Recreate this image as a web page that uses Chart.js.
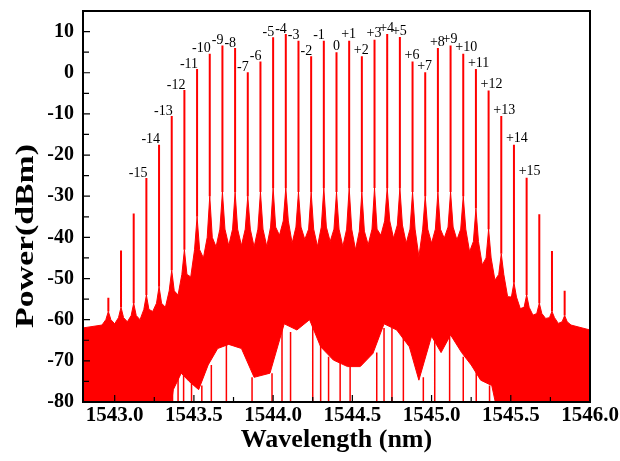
<!DOCTYPE html>
<html>
<head>
<meta charset="utf-8">
<script src="https://cdn.jsdelivr.net/npm/chart.js@4.4.1/dist/chart.umd.min.js"></script>
<style>
  html, body { margin: 0; padding: 0; background: #fff; }
</style>
</head>
<body>
<canvas id="spectrum" width="620" height="461"></canvas>
<script>
// comb lines: wavelength (nm), peak power (dBm), label
const combWl = [1542.96, 1543.04, 1543.12, 1543.20, 1543.28, 1543.36, 1543.44, 1543.52, 1543.60, 1543.68,
                1543.76, 1543.84, 1543.92, 1544.00, 1544.08, 1544.16, 1544.24, 1544.32, 1544.40, 1544.48,
                1544.56, 1544.64, 1544.72, 1544.80, 1544.88, 1544.96, 1545.04, 1545.12, 1545.20, 1545.28,
                1545.36, 1545.44, 1545.52, 1545.60, 1545.68, 1545.76, 1545.84];
const combPeak = [-54.7, -43.2, -34.2, -25.6, -17.5, -10.5, -4.2, 0.9, 4.6, 6.6,
                  6.0, 0.1, 2.7, 8.6, 9.4, 7.8, 4.0, 7.8, 5.0, 7.8,
                  4.0, 8.0, 9.4, 8.7, 2.7, 0.1, 6.0, 6.6, 4.6, 0.9,
                  -4.3, -10.5, -17.5, -25.5, -34.4, -43.3, -53.0];
const combLabel = ['', '', '', '-15', '-14', '-13', '-12', '-11', '-10', '-9',
                   '-8', '-7', '-6', '-5', '-4', '-3', '-2', '-1', '0', '+1',
                   '+2', '+3', '+4', '+5', '+6', '+7', '+8', '+9', '+10', '+11',
                   '+12', '+13', '+14', '+15', '', '', ''];
// pedestal under each line: level where the thin line starts, and level just beside it
const skirtTop = [-58, -57, -56, -54, -52, -48, -43, -35, -30, -29,
                  -29, -30, -29, -28, -28, -29, -29, -28, -29, -28,
                  -29, -28, -28, -28, -29, -30, -29, -29, -30, -33,
                  -38, -44, -51, -54, -56, -58, -59];
const shoulderDb = [-60, -59.5, -59, -57.5, -56, -53, -49, -43, -40, -38,
                    -38, -38, -38, -37.5, -36, -37.5, -38, -37.5, -38, -38,
                    -38.5, -38, -36, -37, -38, -38, -38, -37.5, -38, -41,
                    -45, -49, -54.5, -57, -58.5, -59.5, -60.5];

// upper edge of the noise between the lines
const valleyWl = [1542.80, 1542.92, 1543.00, 1543.08, 1543.16, 1543.24, 1543.32, 1543.40, 1543.48, 1543.56,
                  1543.64, 1543.72, 1543.80, 1543.88, 1543.96, 1544.04, 1544.12, 1544.20, 1544.28, 1544.36,
                  1544.44, 1544.52, 1544.60, 1544.68, 1544.76, 1544.84, 1544.92, 1545.00, 1545.08, 1545.16,
                  1545.24, 1545.32, 1545.40, 1545.48, 1545.56, 1545.64, 1545.72, 1545.80, 1545.88, 1546.00];
const valleyDb = [-62, -61.3, -61, -60.5, -60, -58, -57, -54, -49.6, -45,
                  -42.3, -42, -42, -42.3, -42.2, -39.5, -41.4, -40.5, -42.2, -41,
                  -42.2, -43, -41.8, -39.5, -40.2, -41.4, -44.7, -41.4, -40.2, -40.6,
                  -43.5, -46.7, -50.4, -54.4, -57.3, -58.9, -59.7, -60.9, -61.3, -62.5];

// lower edge of the noise band
const lowerWl = [1542.80, 1543.34, 1543.37, 1543.42, 1543.47, 1543.53, 1543.59, 1543.65, 1543.72, 1543.80,
                 1543.88, 1543.98, 1544.07, 1544.15, 1544.23, 1544.30, 1544.38, 1544.47, 1544.55, 1544.63,
                 1544.70, 1544.78, 1544.86, 1544.92, 1545.00, 1545.06, 1545.12, 1545.19, 1545.25, 1545.31,
                 1545.38, 1545.43, 1546.00];
const lowerDb = [-85, -85, -77, -73, -75, -77, -71, -67, -66, -67,
                 -74, -73, -61, -62.5, -60, -66.6, -69.8, -71.4, -71.4, -68.2,
                 -61, -62.5, -66.6, -74.7, -64, -68, -63.7, -68, -71, -74.7,
                 -76, -85, -85];

// deep drops that reach the bottom of the axis
const dipWl = [1543.365, 1543.40, 1543.435, 1543.485, 1543.55, 1543.61, 1543.705, 1543.867, 1543.993, 1544.056,
               1544.11, 1544.25, 1544.30, 1544.350, 1544.423, 1544.486, 1544.654, 1544.70, 1544.75, 1544.822,
               1544.948, 1545.02, 1545.114, 1545.20, 1545.282, 1545.366];
const dipTop = [-76, -74, -73, -75, -76, -71, -66, -74, -73, -62,
                -63, -61, -66, -69, -70, -71, -68, -62, -62, -64,
                -74, -65, -64, -69, -72, -76];

const xTickValues = [1543.0, 1543.5, 1544.0, 1544.5, 1545.0, 1545.5, 1546.0];
const yTickValues = [-80, -70, -60, -50, -40, -30, -20, -10, 0, 10];

const RED = '#ff0000';
const serif = '"Liberation Serif", "Times New Roman", serif';
const SHOULDER = 0.016; // nm from line centre where the pedestal shoulder sits

// build the point lists
const upperPts = valleyWl.map((w, i) => ({x: w, y: valleyDb[i]}));
combWl.forEach((w, i) => {
  upperPts.push({x: w - SHOULDER, y: shoulderDb[i]}, {x: w, y: skirtTop[i]}, {x: w + SHOULDER, y: shoulderDb[i]});
});
upperPts.sort((a, b) => a.x - b.x);
const lowerPts = lowerWl.map((w, i) => ({x: w, y: lowerDb[i]}));
const combPts = [];
combWl.forEach((w, i) => {
  combPts.push({x: w, y: skirtTop[i]}, {x: w, y: combPeak[i]}, {x: w, y: null});
});
const dipPts = [];
dipWl.forEach((w, i) => {
  dipPts.push({x: w, y: -82}, {x: w, y: dipTop[i]}, {x: w, y: null});
});

const frameTicks = {
  id: 'frameTicks',
  afterDatasetsDraw(chart) {
    const {ctx, chartArea: a, scales: {x, y}} = chart;
    ctx.save();
    ctx.strokeStyle = '#000';
    ctx.lineWidth = 1.2;
    ctx.beginPath();
    xTickValues.forEach((v, i) => {
      const px = x.getPixelForValue(v);
      ctx.moveTo(px, a.bottom); ctx.lineTo(px, a.bottom - 7);
      if (i < xTickValues.length - 1) {
        const pm = x.getPixelForValue((v + xTickValues[i + 1]) / 2);
        ctx.moveTo(pm, a.bottom); ctx.lineTo(pm, a.bottom - 5);
      }
    });
    yTickValues.forEach(v => {
      const py = y.getPixelForValue(v);
      ctx.moveTo(a.left, py); ctx.lineTo(a.left + 7, py);
      const pm = y.getPixelForValue(v + 5);
      if (pm > a.top + 2) { ctx.moveTo(a.left, pm); ctx.lineTo(a.left + 6, pm); }
    });
    ctx.stroke();
    ctx.lineWidth = 2;
    ctx.strokeRect(a.left, a.top, a.right - a.left, a.bottom - a.top);

    // order labels above the comb lines
    ctx.fillStyle = '#000';
    ctx.font = '14px ' + serif;
    ctx.textBaseline = 'middle';
    combLabel.forEach((t, i) => {
      if (!t) return;
      const px = x.getPixelForValue(combWl[i]);
      const py = y.getPixelForValue(combPeak[i]);
      if (t[0] === '-') { ctx.textAlign = 'right'; ctx.fillText(t, px + 1, py - 5); }
      else if (t[0] === '+') { ctx.textAlign = 'left'; ctx.fillText(t, px - 8, py - 6); }
      else { ctx.textAlign = 'center'; ctx.fillText(t, px, py - 6); }
    });

    // y-axis title, drawn wide like the original
    ctx.translate(26, 236);
    ctx.rotate(-Math.PI / 2);
    ctx.scale(1.3, 1);
    ctx.font = 'bold 26px ' + serif;
    ctx.textAlign = 'center';
    ctx.fillText('Power(dBm)', 0, 0);
    ctx.restore();
  }
};

new Chart(document.getElementById('spectrum'), {
  type: 'line',
  data: {
    datasets: [
      { data: upperPts, borderColor: RED, backgroundColor: RED, borderWidth: 1, fill: 'start', pointRadius: 0, order: 4 },
      { data: lowerPts, borderColor: RED, backgroundColor: '#ffffff', borderWidth: 1, fill: 'start', pointRadius: 0, order: 3 },
      { data: dipPts, borderColor: RED, borderWidth: 1.5, fill: false, pointRadius: 0, order: 2 },
      { data: combPts, borderColor: RED, borderWidth: 2, fill: false, pointRadius: 0, order: 1 }
    ]
  },
  options: {
    responsive: false,
    animation: false,
    devicePixelRatio: 1,
    layout: { padding: { top: 11, right: 30, left: 0, bottom: 0 } },
    plugins: { legend: { display: false }, tooltip: { enabled: false } },
    scales: {
      x: {
        type: 'linear', min: 1542.8, max: 1546.0,
        afterBuildTicks: s => { s.ticks = xTickValues.map(v => ({value: v})); },
        afterFit: s => { s.height = 59; s.paddingLeft = 0; s.paddingRight = 0; },
        grid: { display: false, drawTicks: false },
        border: { display: false },
        ticks: {
          autoSkip: false, maxRotation: 0, padding: 1, color: '#000',
          font: { family: serif, weight: 'bold', size: 21 },
          callback: v => Number(v).toFixed(1)
        },
        title: {
          display: true, text: 'Wavelength (nm)', color: '#000',
          font: { family: serif, weight: 'bold', size: 26 },
          padding: { top: 0, bottom: 5 }
        }
      },
      y: {
        type: 'linear', min: -80, max: 15,
        afterBuildTicks: s => { s.ticks = yTickValues.map(v => ({value: v})); },
        afterFit: s => { s.width = 83; s.paddingTop = 0; s.paddingBottom = 0; },
        grid: { display: false, drawTicks: false },
        border: { display: false },
        ticks: {
          padding: 9, color: '#000',
          font: { family: serif, weight: 'bold', size: 20 },
          callback: v => String(v)
        },
        title: { display: false }
      }
    }
  },
  plugins: [frameTicks]
});
</script>
</body>
</html>
